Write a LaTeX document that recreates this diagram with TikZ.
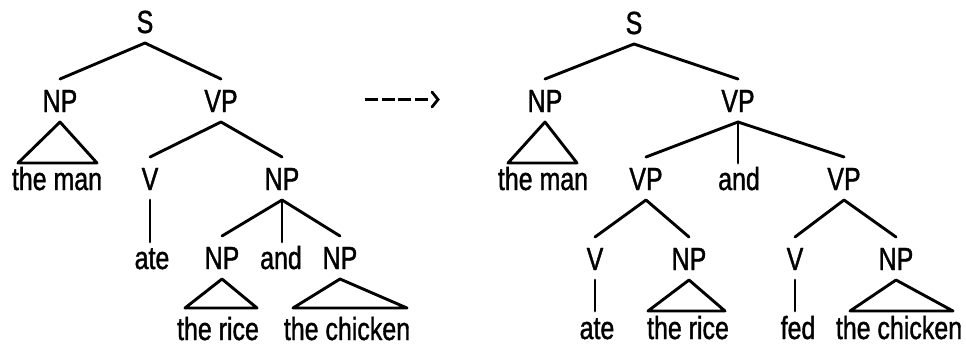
\documentclass[tikz,border=0pt]{standalone}
\usepackage{fontspec}
\newfontfamily\treefont[FakeStretch=0.78,FakeBold=1.2]{Liberation Sans}
\usetikzlibrary{calc}
\tikzset{
  cat/.style={font=\treefont\fontsize{32}{38}\selectfont, inner sep=0pt, outer xsep=0pt, outer ysep=10pt,
              anchor=base, text height=23pt, text depth=0pt},
  word/.style={cat, outer ysep=4pt},
  branch/.style={line width=2.9pt, line cap=round, line join=round},
  dasharrow/.style={line width=3pt, dash pattern=on 13pt off 3.7pt},
}
\begin{document}
\begin{tikzpicture}[x=1pt,y=-1pt]
\useasboundingbox (0,0) rectangle (966,346);
% ---------- left tree ----------
\node[cat] (lS) at (145,33) {S};
\node[cat] (lNP) at (60,112) {NP};
\node[cat] (lVP) at (221,112) {VP};
\node[word] (lman) at (57,190) {the man};
\node[cat] (lV) at (150,190) {V};
\node[cat] (lNPo) at (282,190) {NP};
\node[word] (late) at (152,269) {ate};
\node[cat] (lNPa) at (222,269) {NP};
\node[word] (land) at (281,269) {and};
\node[cat] (lNPb) at (340,269) {NP};
\node[word, outer ysep=9pt] (lrice) at (218,340) {the rice};
\node[word, outer ysep=9pt] (lchick) at (347,340) {the chicken};
\draw[branch] (lNP.north) -- (lS.south) -- (lVP.north);
\draw[branch] (lNP.south) -- ([xshift=-39pt]lman.north) -- ([xshift=40pt]lman.north) -- cycle;
\draw[branch] (lV.north) -- (lVP.south) -- (lNPo.north);
\draw[branch] (lV.south) -- (lV.south |- late.north);
\draw[branch] (lNPa.north) -- (lNPo.south) -- (lNPb.north);
\draw[branch] (lNPo.south) -- (lNPo.south |- land.north);
\draw[branch] (lNPa.south) -- ([xshift=-33pt]lrice.north) -- ([xshift=39pt]lrice.north) -- cycle;
\draw[branch] (lNPb.south) -- ([xshift=-54pt]lchick.north) -- ([xshift=60pt]lchick.north) -- cycle;
% ---------- arrow ----------
\coordinate (arrS) at (365,99);
\coordinate (arrE) at (428,99);
\coordinate (arrT) at (438,99.5);
\draw[dasharrow] (arrS) -- (arrE);
\draw[line width=2.8pt, line cap=round, line join=miter] (arrT) ++(-6,-7.5) -- (arrT) -- ++(-6,7.5);
% ---------- right tree ----------
\node[cat] (rS) at (634,34) {S};
\node[cat] (rNP) at (545,112) {NP};
\node[cat] (rVP) at (738,112) {VP};
\node[word] (rman) at (543,190) {the man};
\node[cat] (rVPa) at (646,190) {VP};
\node[word] (rand) at (739,190) {and};
\node[cat] (rVPb) at (844,190) {VP};
\node[cat] (rVa) at (595,270) {V};
\node[cat] (rNPa) at (689,270) {NP};
\node[cat] (rVb) at (795,270) {V};
\node[cat] (rNPb) at (896,270) {NP};
\node[word, outer ysep=5pt] (rate) at (597,339) {ate};
\node[word, outer ysep=5pt] (rrice) at (688,339) {the rice};
\node[word, outer ysep=5pt] (rfed) at (798,339) {fed};
\node[word, outer ysep=5pt] (rchick) at (899,339) {the chicken};
\draw[branch] (rNP.north) -- (rS.south) -- (rVP.north);
\draw[branch] (rNP.south) -- ([xshift=-35pt]rman.north) -- ([xshift=34pt]rman.north) -- cycle;
\draw[branch] (rVPa.north) -- (rVP.south) -- (rVPb.north);
\draw[branch] (rVP.south) -- (rVP.south |- rand.north);
\draw[branch] (rVa.north) -- (rVPa.south) -- (rNPa.north);
\draw[branch] (rVb.north) -- (rVPb.south) -- (rNPb.north);
\draw[branch] (rVa.south) -- (rVa.south |- rate.north);
\draw[branch] (rVb.south) -- (rVb.south |- rfed.north);
\draw[branch] (rNPa.south) -- ([xshift=-40pt]rrice.north) -- ([xshift=37pt]rrice.north) -- cycle;
\draw[branch] (rNPb.south) -- ([xshift=-49pt]rchick.north) -- ([xshift=54pt]rchick.north) -- cycle;
\end{tikzpicture}
\end{document}
